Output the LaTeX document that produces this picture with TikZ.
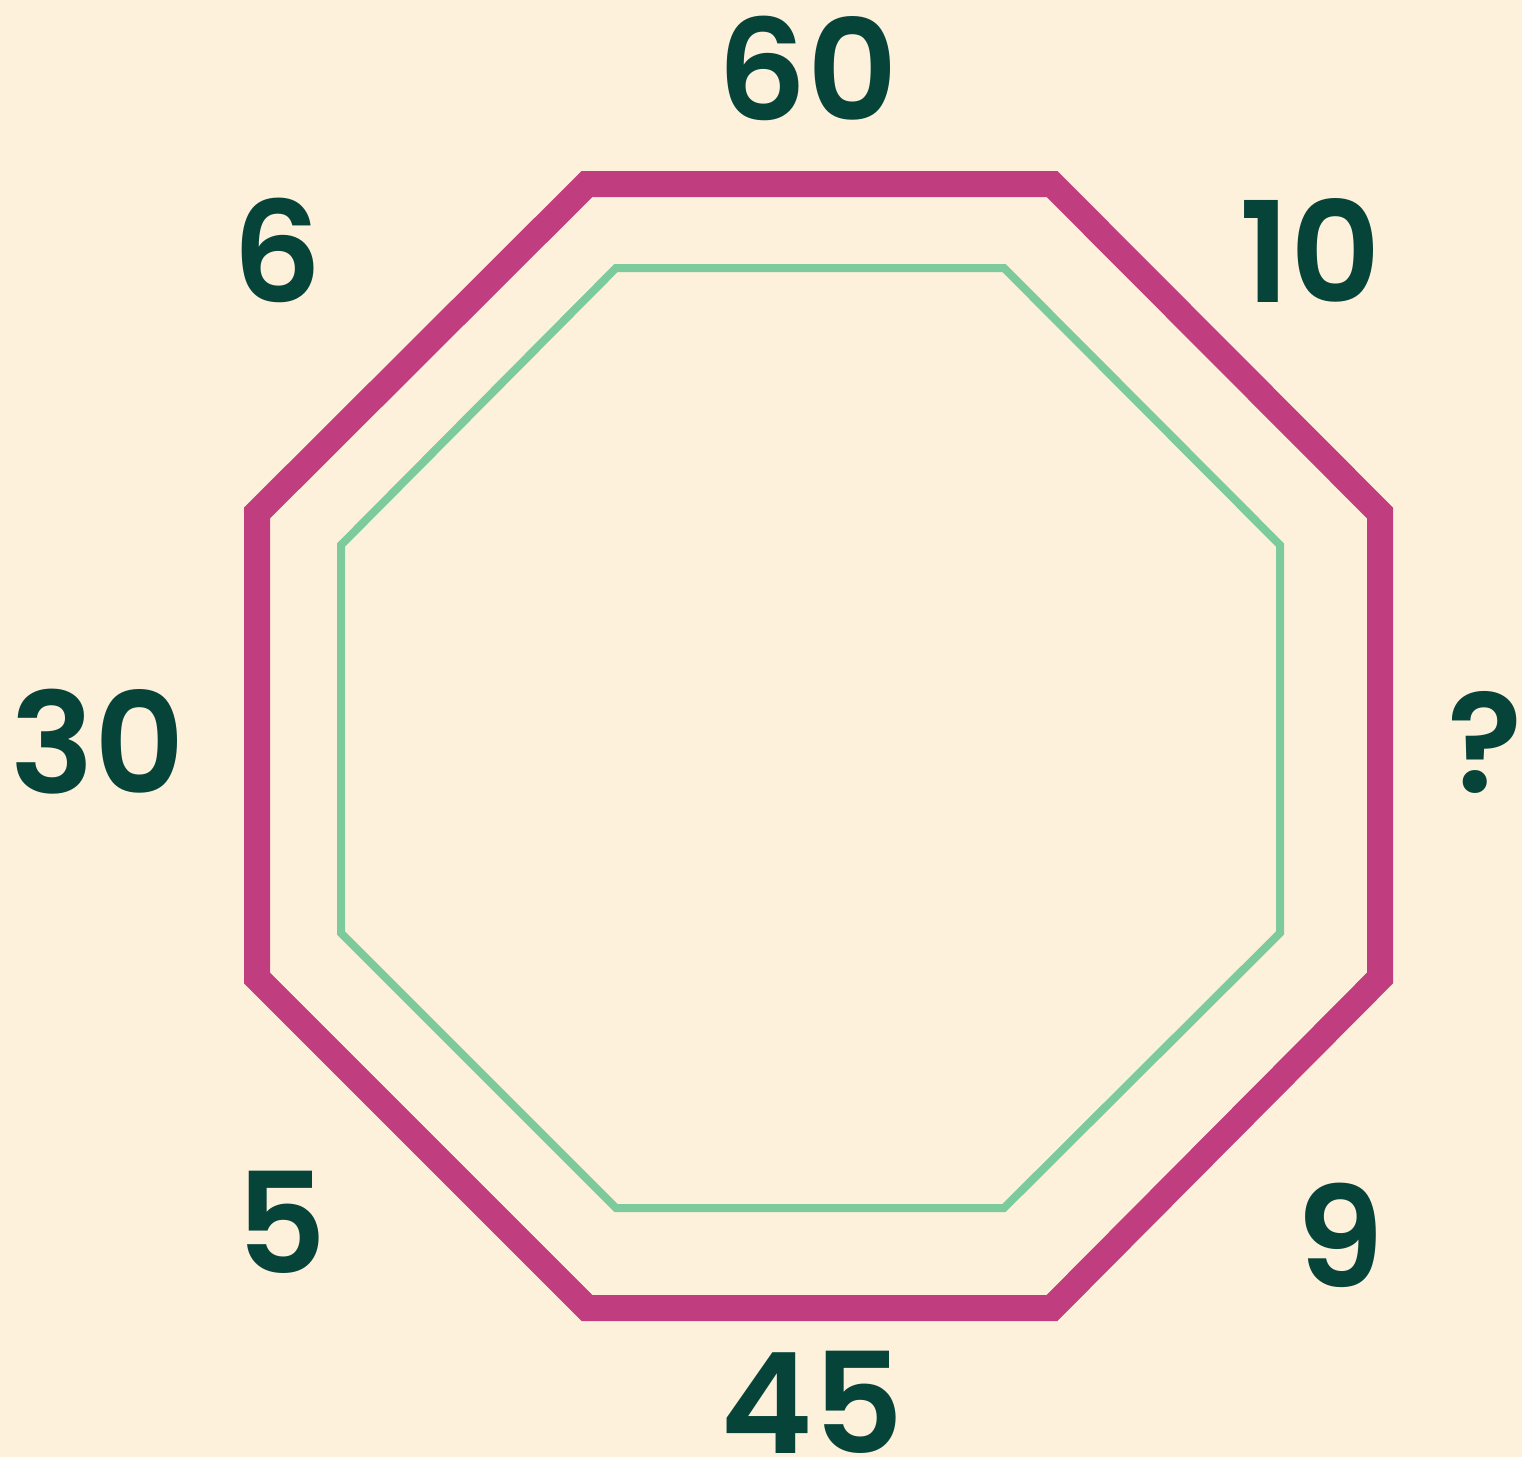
\documentclass[tikz,border=0pt]{standalone}
\usepackage{fontspec}
\setmainfont{Poppins}[BoldFont={* SemiBold}]
\definecolor{bg}{HTML}{FDF1DC}
\definecolor{mag}{HTML}{C03E7F}
\definecolor{grn}{HTML}{7DCB9D}
\definecolor{txt}{HTML}{06443A}
\tikzset{
  num/.style={text=txt, font=\fontsize{140}{140}\selectfont\bfseries, inner sep=0pt, anchor=center},
  outerline/.style={draw=mag, line width=26pt, line join=miter},
  innerline/.style={draw=grn, line width=8pt, line join=miter}
}
\begin{document}
\begin{tikzpicture}[x=1pt,y=-1pt]
\fill[bg] (0,0) rectangle (1522,1457);
\useasboundingbox (0,0) rectangle (1522,1457);
\draw[outerline] (587,184) -- (1052,184) -- (1380,513) -- (1380,978) -- (1052,1308) -- (587,1308) -- (257,978) -- (257,513) -- cycle;
\draw[innerline] (616,268) -- (1004,268) -- (1280,545) -- (1280,933) -- (1004,1208) -- (616,1208) -- (341,933) -- (341,545) -- cycle;
\node[num] (n60) at (808,68) {60};
\node[num] (n10) at (1310,250) {10};
\node[num] (n6) at (277,250) {6};
\node[num] (n30) at (98,742) {30};
\node[num] (nq) at (1485,742) {?};
\node[num] (n5) at (282,1222) {5};
\node[num] (n9) at (1340,1235) {9};
\node[num] (n45) at (812,1402) {45};
\end{tikzpicture}
\end{document}
